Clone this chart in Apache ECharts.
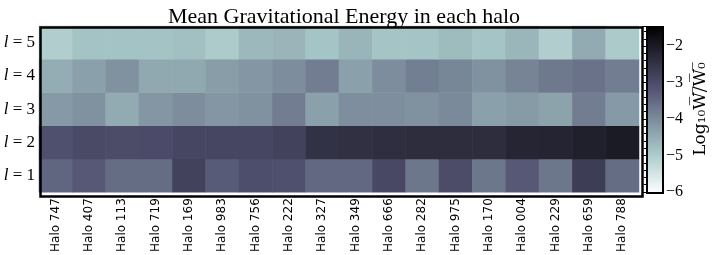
<!DOCTYPE html>
<html><head><meta charset="utf-8">
<script src="https://cdn.jsdelivr.net/npm/echarts@6/dist/echarts.min.js"></script>
<style>html,body{margin:0;padding:0;background:#fff}#c{width:714px;height:255px}</style>
</head><body><div id="c"></div>
<script>
const halos = ['Halo 747','Halo 407','Halo 113','Halo 719','Halo 169','Halo 983','Halo 756','Halo 222','Halo 327','Halo 349','Halo 666','Halo 282','Halo 975','Halo 170','Halo 004','Halo 229','Halo 659','Halo 788'];
const levels = ['1','2','3','4','5'];
const l1 = [-3.41,-3.21,-3.52,-3.52,-2.80,-3.25,-3.03,-3.06,-3.45,-3.45,-2.92,-3.66,-2.99,-3.66,-3.21,-3.66,-2.70,-3.52];
const l2 = [-3.06,-2.95,-2.99,-2.98,-2.89,-2.89,-2.89,-2.80,-2.48,-2.42,-2.39,-2.36,-2.36,-2.36,-2.21,-2.18,-2.11,-2.00];
const l3 = [-4.17,-4.06,-4.43,-4.13,-4.00,-4.13,-4.06,-3.76,-4.27,-4.02,-4.02,-4.06,-3.96,-4.27,-4.19,-4.31,-3.76,-4.17];
const l4 = [-4.47,-4.27,-4.06,-4.39,-4.39,-4.23,-4.13,-4.00,-3.76,-4.27,-4.00,-3.78,-3.90,-4.06,-3.86,-3.70,-3.59,-3.76];
const l5 = [-4.98,-4.80,-4.80,-4.80,-4.74,-4.94,-4.63,-4.58,-4.82,-4.59,-4.82,-4.82,-4.68,-4.82,-4.61,-4.98,-4.43,-4.92];
const cbMin = -6, cbMax = -1.45;

function bone(t){
  const r = t < 0.746032 ? 0.652778*t/0.746032 : 0.652778 + (t-0.746032)*(1-0.652778)/(1-0.746032);
  const g = t < 0.365079 ? 0.319444*t/0.365079 : (t < 0.746032 ? 0.319444 + (t-0.365079)*(0.777778-0.319444)/(0.746032-0.365079) : 0.777778 + (t-0.746032)*(1-0.777778)/(1-0.746032));
  const b = t < 0.365079 ? 0.444444*t/0.365079 : 0.444444 + (t-0.365079)*(1-0.444444)/(1-0.365079);
  const h = v => Math.round(Math.max(0,Math.min(1,v))*255);
  return 'rgb(' + h(r) + ',' + h(g) + ',' + h(b) + ')';
}
const cmap = [];
for (let i = 0; i <= 100; i++) cmap.push(bone(1 - i/100));
const stops = [];
for (let i = 0; i <= 50; i++) stops.push({offset: i/50, color: bone(i/50)});

const rows = [l1,l2,l3,l4,l5];
const data = [];
rows.forEach((row, yi) => row.forEach((v, xi) => data.push([xi, yi, v])));

const serif = 'Liberation Serif';
const minus = v => String(v).replace('-', '\u2212');
const tick = {inside: true, alignWithLabel: true, length: 4, lineStyle: {color: '#000', width: 1}};

const chart = echarts.init(document.getElementById('c'), null, {renderer:'canvas'});
chart.setOption({
  animation: false,
  title: {text: 'Mean Gravitational Energy in each halo', left: 339, top: 1, textAlign: 'center',
    textStyle: {fontFamily: serif, fontWeight: 'normal', fontSize: 22, color: '#000'}},
  grid: [
    {left: 39, top: 26, width: 600, height: 167},
    {left: 646, top: 26, width: 16, height: 166}
  ],
  xAxis: [
    {type: 'category', data: halos, gridIndex: 0, position: 'bottom', z: 5,
      axisLine: {show: false}, axisTick: tick,
      axisLabel: {rotate: 90, margin: 6, fontFamily: 'DejaVu Sans', fontSize: 12, color: '#000'},
      splitLine: {show: false}},
    {type: 'category', data: halos, gridIndex: 0, position: 'top', z: 5,
      axisLine: {show: false}, axisTick: tick, axisLabel: {show: false}},
    {type: 'value', gridIndex: 1, show: false, min: 0, max: 1}
  ],
  yAxis: [
    {type: 'category', data: levels, gridIndex: 0, position: 'left', z: 5,
      axisLine: {show: false}, axisTick: tick,
      axisLabel: {margin: 4, formatter: v => '{i|l} = ' + v,
        rich: {i: {fontFamily: serif, fontStyle: 'italic', fontSize: 17, color: '#000'}},
        fontFamily: serif, fontSize: 17, color: '#000'}},
    {type: 'category', data: levels, gridIndex: 0, position: 'right', z: 5,
      axisLine: {show: false}, axisTick: tick, axisLabel: {show: false}},
    {type: 'value', gridIndex: 1, position: 'right', min: cbMin, max: cbMax, interval: 1, z: 20,
      axisLine: {show: false},
      axisTick: {inside: true, length: 4, lineStyle: {color: '#000', width: 1}},
      minorTick: {show: true, splitNumber: 5, length: 2, lineStyle: {color: '#000', width: 1}},
      splitLine: {show: false},
      axisLabel: {margin: 4, formatter: minus, fontFamily: serif, fontSize: 16, color: '#000',
        showMaxLabel: false},
      name: 'Log\u2081\u2080W\u0305/\u0305W\u0305\u2080\u0305', nameLocation: 'middle', nameRotate: 90, nameGap: 30,
      nameTextStyle: {fontFamily: 'DejaVu Serif', fontSize: 17, color: '#000'}}
  ],
  visualMap: {show: false, min: cbMin, max: cbMax, dimension: 2, seriesIndex: 0, inRange: {color: cmap}},
  series: [{type: 'heatmap', xAxisIndex: 0, yAxisIndex: 0, data: data, itemStyle: {borderWidth: 0}}],
  graphic: [
    {type: 'rect', left: 646, top: 26, z: 10, silent: true,
      shape: {width: 16, height: 166},
      style: {fill: {type: 'linear', x: 0, y: 0, x2: 0, y2: 1, colorStops: stops}, stroke: '#000', lineWidth: 2}},
    {type: 'rect', left: 38, top: 25, z: 100, silent: true,
      shape: {width: 602, height: 169},
      style: {fill: 'none', stroke: '#000', lineWidth: 2.5}}
  ]
});
</script></body></html>
